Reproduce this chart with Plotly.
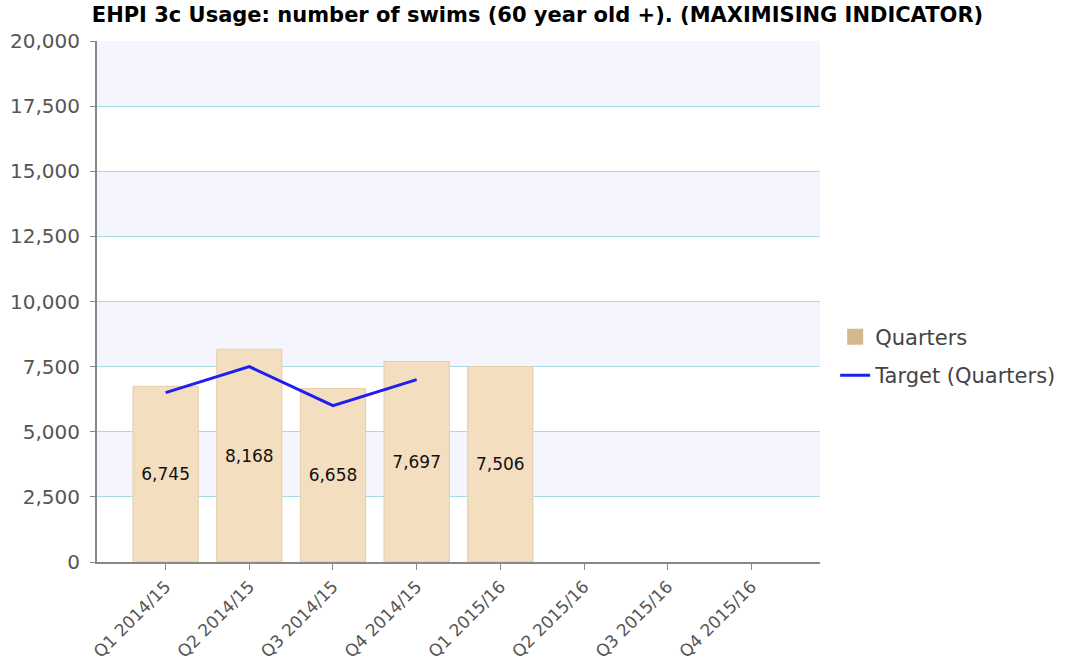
import plotly.graph_objects as go

categories = ["Q1 2014/15", "Q2 2014/15", "Q3 2014/15", "Q4 2014/15",
              "Q1 2015/16", "Q2 2015/16", "Q3 2015/16", "Q4 2015/16"]
quarters = [6745, 8168, 6658, 7697, 7506, None, None, None]
target = [6500, 7500, 6000, 7000, None, None, None, None]
y_ticks = [0, 2500, 5000, 7500, 10000, 12500, 15000, 17500, 20000]
title = "EHPI 3c Usage: number of swims (60 year old +). (MAXIMISING INDICATOR)"

W, H = 1075, 671
L, R, T, B = 97, 255, 41, 109
FONT = "DejaVu Sans"

fig = go.Figure()

fig.add_trace(go.Bar(
    x=categories, y=quarters, name="Quarters", showlegend=False,
    legendgroup="q",
    width=0.78,
    marker=dict(color="#f4dec0", line=dict(color="#e4cdab", width=1)),
    text=[f"{v:,}" if v is not None else "" for v in quarters],
    textposition="inside", insidetextanchor="middle",
    textfont=dict(family=FONT, size=17, color="#111111"),
    textangle=0, cliponaxis=False,
))

# legend entry for the bars (darker swatch, as in the reference)
fig.add_trace(go.Scatter(
    x=[None], y=[None], name="Quarters", mode="markers", legendgroup="q",
    marker=dict(symbol="square", size=16, color="#d4b88e"),
))

fig.add_trace(go.Scatter(
    x=categories, y=target, name="Target (Quarters)", mode="lines",
    legendgroup="t",
    line=dict(color="#1e1ef0", width=3),
))

# alternating background bands
shapes = []
for i in range(len(y_ticks) - 1):
    if (len(y_ticks) - 2 - i) % 2 == 0:
        shapes.append(dict(type="rect", xref="paper", yref="y", x0=0, x1=1,
                           y0=y_ticks[i], y1=y_ticks[i + 1],
                           fillcolor="#f5f6fd", line=dict(width=0), layer="below"))

fig.update_layout(
    width=W, height=H,
    margin=dict(l=L, r=R, t=T, b=B, autoexpand=False),
    paper_bgcolor="white", plot_bgcolor="white",
    shapes=shapes,
    title=dict(text=f"<b>{title}</b>", x=0.5, xref="container", xanchor="center",
               y=1 - 15 / H, yref="container", yanchor="middle",
               font=dict(family=FONT, size=21, color="#000000")),
    showlegend=True,
    legend=dict(x=1.021, y=0.395, xanchor="left", yanchor="middle",
                font=dict(family=FONT, size=21, color="#444444"),
                bgcolor="rgba(0,0,0,0)", tracegroupgap=8),
)

fig.update_xaxes(
    type="category", range=[-0.82, 7.82], automargin=False,
    showgrid=False, showline=True, linecolor="#888888", linewidth=2,
    ticks="outside", ticklen=6, tickcolor="#888888",
    tickangle=-45, tickfont=dict(family=FONT, size=17, color="#555555"),
)
fig.update_yaxes(
    range=[0, 20000], tickvals=y_ticks, tickformat=",", automargin=False,
    showgrid=True, gridcolor="#a9dbe4", gridwidth=1,
    showline=True, linecolor="#888888", linewidth=2,
    ticks="outside", ticklen=5, tickcolor="#888888", ticklabelstandoff=6,
    tickfont=dict(family=FONT, size=20, color="#555555"),
    zeroline=False,
)

fig.write_html("out.html", config={"displayModeBar": False},
               post_script="document.body.style.margin='0';")
